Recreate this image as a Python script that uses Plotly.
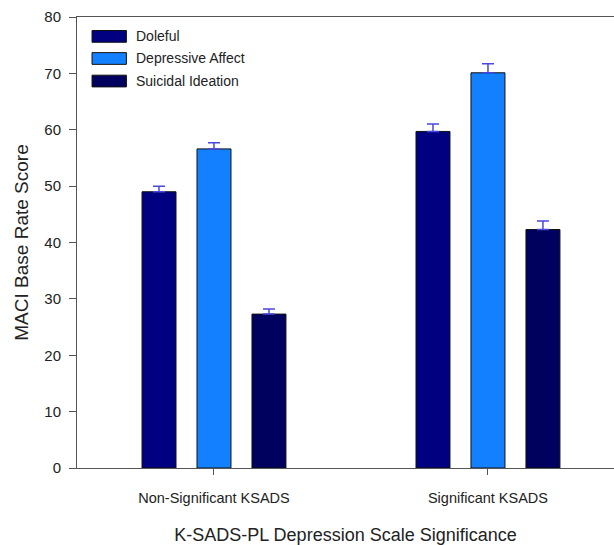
import plotly.graph_objects as go

categories = ["Non-Significant KSADS", "Significant KSADS"]
series_names = ["Doleful", "Depressive Affect", "Suicidal Ideation"]
doleful = [49.0, 59.7]
doleful_err = [1.0, 1.3]
depressive = [56.6, 70.1]
depressive_err = [1.1, 1.6]
suicidal = [27.3, 42.3]
suicidal_err = [0.9, 1.5]
y_ticks = [0, 10, 20, 30, 40, 50, 60, 70, 80]

colors = ["#000080", "#1380FF", "#00005E"]
err_color = "#4848E0"
values = [doleful, depressive, suicidal]
errors = [doleful_err, depressive_err, suicidal_err]

font = "Liberation Sans, Arial, sans-serif"
txt = "#222222"
fig = go.Figure()
for name, v, e, c in zip(series_names, values, errors, colors):
    fig.add_trace(go.Bar(
        x=categories, y=v, name=name,
        marker=dict(color=c, line=dict(color="#111111", width=1)),
        error_y=dict(type="data", array=e, symmetric=False, arrayminus=[0]*len(e),
                     color=err_color, thickness=1.5, width=6),
        showlegend=False,
    ))

# manual legend (paper coords relative to plot area)
row_y = [0.957, 0.908, 0.858]
for name, c, yy in zip(series_names, colors, row_y):
    fig.add_shape(type="rect", xref="paper", yref="paper",
                  x0=0.028, x1=0.092, y0=yy - 0.013, y1=yy + 0.013,
                  fillcolor=c, line=dict(color="#111111", width=1))
    fig.add_annotation(text=name, xref="paper", yref="paper", x=0.107, y=yy,
                       xanchor="left", yanchor="middle", showarrow=False,
                       font=dict(family=font, size=14, color=txt))

fig.update_layout(
    width=614, height=545,
    margin=dict(l=77, r=0, t=17, b=77),
    plot_bgcolor="white", paper_bgcolor="white",
    barmode="group", bargap=0.398, bargroupgap=0.382,
    font=dict(family=font, size=14, color=txt),
    xaxis=dict(
        range=[-0.5, 1.46], showline=True, mirror=True, linecolor="#555555", linewidth=1,
        ticks="outside", ticklen=6, tickcolor="#555555", showgrid=False,
        ticklabelstandoff=11,
        tickfont=dict(family=font, size=14.5, color=txt),
        title=dict(text="K-SADS-PL Depression Scale Significance",
                   font=dict(family=font, size=18, color=txt), standoff=22),
    ),
    yaxis=dict(
        range=[0, 80], tickvals=y_ticks, showline=True, linecolor="#555555", linewidth=1,
        ticks="outside", ticklen=7, tickcolor="#555555", showgrid=False, zeroline=False,
        ticklabelstandoff=5,
        tickfont=dict(family=font, size=15, color=txt),
        title=dict(text="MACI Base Rate Score",
                   font=dict(family=font, size=19, color=txt), standoff=10),
    ),
)

fig.write_html("out.html", config={"displayModeBar": False},
               post_script="document.body.style.margin='0';document.body.style.overflow='hidden';")
